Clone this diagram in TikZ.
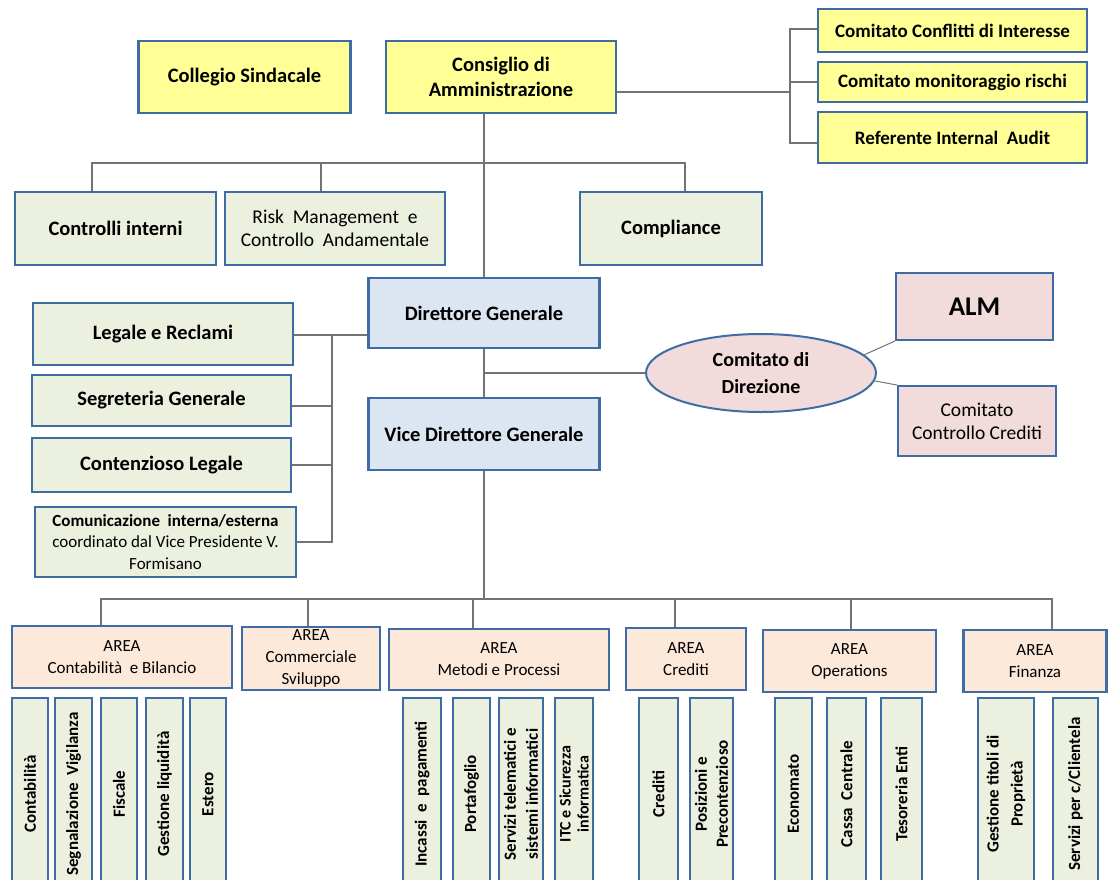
\documentclass[tikz,border=0pt]{standalone}
\usepackage{fontspec}
\setmainfont{Carlito}
\usepackage{tikz}
\usetikzlibrary{shapes.geometric}
\definecolor{bordblue}{RGB}{63,108,165}
\definecolor{boardyellow}{RGB}{255,255,150}
\definecolor{unitgreen}{RGB}{235,241,222}
\definecolor{dirblue}{RGB}{220,230,242}
\definecolor{compink}{RGB}{242,220,219}
\definecolor{areapeach}{RGB}{253,233,217}
\definecolor{linegray}{RGB}{115,115,115}
\tikzset{
  box/.style={
    draw=bordblue,
    line width=2.6pt,
    align=center,
    inner sep=1pt
  },
  boardbox/.style={box, fill=boardyellow, font=\fontsize{20.5}{25}\selectfont\bfseries},
  cttbox/.style={box, fill=boardyellow, font=\fontsize{19}{22}\selectfont\bfseries},
  ctrlbox/.style={box, fill=unitgreen, font=\fontsize{20.5}{23}\selectfont\bfseries},
  dirbox/.style={box, fill=dirblue, font=\fontsize{20.5}{25}\selectfont\bfseries},
  pinkbox/.style={box, fill=compink, line width=2pt},
  areabox/.style={box, fill=areapeach, font=\fontsize{17}{22}\selectfont},
  vbox/.style={box, fill=unitgreen, rotate=90, font=\fontsize{17}{20}\selectfont\bfseries},
  conn/.style={draw=linegray, line width=1.6pt}
}
\begin{document}
\begin{tikzpicture}[x=1pt, y=-1pt]
\clip (0,0) rectangle (1109,879);
\fill[white] (0,0) rectangle (1109,879);

% organi di vertice
\node[boardbox, minimum width=212pt, minimum height=72pt] (cs) at (244.5,77) {Collegio Sindacale};
\node[boardbox, minimum width=230pt, minimum height=72pt] (cda) at (501,77) {Consiglio di\\Amministrazione};
\node[cttbox, minimum width=269pt, minimum height=43pt] (cci) at (952.5,30.5) {Comitato Conflitti di Interesse};
\node[cttbox, minimum width=269pt, minimum height=40pt] (cmr) at (952.5,82) {Comitato monitoraggio rischi};
\node[cttbox, minimum width=269pt, minimum height=51pt] (ria) at (952.5,137.5) {Referente Internal\ \ Audit};

% controlli
\node[ctrlbox, minimum width=201pt, minimum height=73pt] (ci) at (115.5,228.5) {Controlli interni};
\node[ctrlbox, minimum width=220pt, minimum height=73pt, font=\fontsize{19.5}{23}\selectfont] (rm) at (335,228.5) {Risk\ \ Management\ \ e\\Controllo\ \ Andamentale};
\node[ctrlbox, minimum width=182pt, minimum height=73pt] (comp) at (671,228.5) {Compliance};

% direzione
\node[dirbox, minimum width=231pt, minimum height=70pt] (dg) at (484,313) {Direttore Generale};
\node[dirbox, minimum width=231pt, minimum height=72pt] (vdg) at (484,434) {Vice Direttore Generale};
\node[pinkbox, ellipse, minimum width=230pt, minimum height=78pt, font=\fontsize{20}{27}\selectfont\bfseries] (cdd) at (761,373) {Comitato di\\Direzione};
\node[pinkbox, minimum width=157pt, minimum height=67pt, font=\fontsize{27}{30}\selectfont\bfseries] (alm) at (974.5,306.5) {ALM};
\node[pinkbox, minimum width=158pt, minimum height=70pt, font=\fontsize{19.5}{23}\selectfont] (ccc) at (977,421) {Comitato\\Controllo Crediti};

% staff
\node[ctrlbox, minimum width=260pt, minimum height=62pt] (lr) at (163,334) {Legale e Reclami};
\node[ctrlbox, minimum width=259pt, minimum height=51pt] (sg) at (161.5,400.5) {Segreteria Generale};
\node[ctrlbox, minimum width=259pt, minimum height=54pt] (cl) at (161.5,465) {Contenzioso Legale};
\node[ctrlbox, minimum width=261pt, minimum height=70pt, font=\fontsize{17}{21.5}\selectfont] (com) at (165.5,542) {\textbf{Comunicazione\ \ interna/esterna}\\\mdseries coordinato dal Vice Presidente V.\\\mdseries Formisano};

% aree
\node[areabox, minimum width=220pt, minimum height=62pt] (acb) at (122,657) {AREA\\Contabilità\ \ e Bilancio};
\node[areabox, minimum width=138pt, minimum height=63pt] (acs) at (311,658.5) {AREA\\Commerciale\\Sviluppo};
\node[areabox, minimum width=220pt, minimum height=61pt] (amp) at (499,659.5) {AREA\\Metodi e Processi};
\node[areabox, minimum width=120pt, minimum height=62pt] (acr) at (686,659) {AREA\\Crediti};
\node[areabox, minimum width=173pt, minimum height=62pt] (aop) at (849.5,661) {AREA\\Operations};
\node[areabox, minimum width=143pt, minimum height=62pt] (afi) at (1035,661) {AREA\\Finanza};

% uffici
\node[vbox, minimum width=192pt, minimum height=36pt] (ucont) at (30,794) {Contabilità};
\node[vbox, minimum width=192pt, minimum height=37pt] (usegn) at (73.5,794) {Segnalazione\ \ Vigilanza};
\node[vbox, minimum width=192pt, minimum height=36pt] (ufisc) at (119,794) {Fiscale};
\node[vbox, minimum width=192pt, minimum height=37pt] (uliq) at (164.5,794) {Gestione liquidità};
\node[vbox, minimum width=192pt, minimum height=36pt] (uest) at (208,794) {Estero};
\node[vbox, minimum width=192pt, minimum height=38pt] (uinc) at (422,794) {Incassi\ \ e\ \ pagamenti};
\node[vbox, minimum width=192pt, minimum height=37pt] (uport) at (471.5,794) {Portafoglio};
\node[vbox, minimum width=192pt, minimum height=44pt, font=\fontsize{17}{22}\selectfont\bfseries] (utel) at (521,794) {Servizi telematici e\\sistemi informatici};
\node[vbox, minimum width=192pt, minimum height=38pt, font=\fontsize{16}{18}\selectfont\bfseries] (uitc) at (574,794) {ITC e Sicurezza\\informatica};
\node[vbox, minimum width=192pt, minimum height=39pt] (ucred) at (658.5,794) {Crediti};
\node[vbox, minimum width=192pt, minimum height=43pt, font=\fontsize{17}{21}\selectfont\bfseries] (upos) at (711.5,794) {Posizioni e\\Precontenzioso};
\node[vbox, minimum width=192pt, minimum height=37pt] (uecon) at (793.5,794) {Economato};
\node[vbox, minimum width=192pt, minimum height=39pt] (ucassa) at (846.5,794) {Cassa\ \ Centrale};
\node[vbox, minimum width=192pt, minimum height=41pt] (utes) at (901.5,794) {Tesoreria Enti};
\node[vbox, minimum width=192pt, minimum height=56pt, font=\fontsize{17}{24}\selectfont\bfseries] (utit) at (1006,794) {Gestione titoli di\\Proprietà};
\node[vbox, minimum width=192pt, minimum height=45pt] (userv) at (1075.5,794) {Servizi per c/Clientela};

% collegamenti
\coordinate (topbus) at (484,163);
\coordinate (cbr) at (790,92);
\coordinate (lbr) at (332,335);
\coordinate (botbus) at (484,599);

\draw[conn] (dg.north |- cda.south) -- (dg.north);
\draw[conn] ([xshift=-23.5pt]ci.north) |- (topbus) -| ([xshift=14pt]comp.north);
\draw[conn] ([xshift=-14pt]rm.north) -- ([xshift=-14pt]rm.north |- topbus);

\draw[conn] (cda.east |- cbr) -- (cbr);
\draw[conn] (cci.west |- 0,29) -| (cbr) |- (ria.west |- 0,143);
\draw[conn] (cmr.west) -- (cmr.west -| cbr);

\draw[conn] (lr.east |- lbr) -- (dg.west |- lbr);
\draw[conn] (lbr) |- (com.east);
\draw[conn] (sg.east |- 0,406) -- (lbr |- 0,406);
\draw[conn] (cl.east) -- (cl.east -| lbr);

\draw[conn] (dg.south) -- (vdg.north);
\draw[conn] (dg.south |- cdd.west) -- (cdd.west);
\draw[conn, line width=1pt] (cdd.10) -- (alm.south west);
\draw[conn, line width=1pt] (cdd.-4) -- (ccc.north west);

\draw[conn] (vdg.south) -- (botbus);
\draw[conn] ([xshift=-21pt]acb.north) |- (botbus) -| ([xshift=17pt]afi.north);
\draw[conn] ([xshift=-3pt]acs.north) -- ([xshift=-3pt]acs.north |- botbus);
\draw[conn] ([xshift=-26pt]amp.north) -- ([xshift=-26pt]amp.north |- botbus);
\draw[conn] ([xshift=-11pt]acr.north) -- ([xshift=-11pt]acr.north |- botbus);
\draw[conn] ([xshift=1.5pt]aop.north) -- ([xshift=1.5pt]aop.north |- botbus);
\end{tikzpicture}
\end{document}
